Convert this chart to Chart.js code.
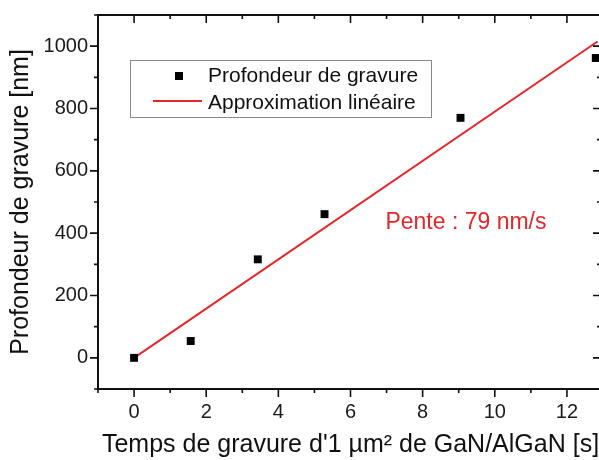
<!DOCTYPE html>
<html>
<head>
<meta charset="utf-8">
<script src="https://cdn.jsdelivr.net/npm/chart.js@4/dist/chart.umd.min.js"></script>
<style>
  html, body { margin: 0; padding: 0; background: #fff; overflow: hidden; }
  #wrap { width: 615px; height: 460px; }
</style>
</head>
<body>
<div id="wrap"><canvas id="c" width="615" height="460"></canvas></div>
<script>
// measured points (s, nm)
const etchTime = [0, 1.57, 3.43, 5.28, 9.05, 12.8];
const etchDepth = [0, 54, 316, 461, 770, 962];
// linear fit end points
const fitTime = [0, 12.85];
const fitDepth = [0, 1015];
const slopeText = "Pente : 79 nm/s";
const xTicks = [0, 2, 4, 6, 8, 10, 12];
const yTicks = [0, 200, 400, 600, 800, 1000];

const FONT = "'Liberation Sans', Arial, sans-serif";
const RED = "#e5262b";

const frame = {
  id: "frame",
  afterDatasetsDraw(chart) {
    const { ctx, chartArea: a, scales: { x, y } } = chart;
    ctx.save();
    ctx.strokeStyle = "#111";
    ctx.lineWidth = 1.6;
    ctx.beginPath();
    for (let v = x.min; v <= x.max; v++) {
      const px = x.getPixelForValue(v);
      const len = v % 2 === 0 ? 8 : 4;
      ctx.moveTo(px, a.bottom); ctx.lineTo(px, a.bottom + len);
      ctx.moveTo(px, a.top); ctx.lineTo(px, a.top + len);
    }
    for (let v = y.min; v <= y.max; v += 100) {
      const py = y.getPixelForValue(v);
      const len = v % 200 === 0 ? 8 : 4;
      ctx.moveTo(a.left, py); ctx.lineTo(a.left - len, py);
      ctx.moveTo(a.right, py); ctx.lineTo(a.right - len - 2, py);
    }
    ctx.stroke();
    ctx.lineWidth = 2;
    ctx.strokeRect(a.left, a.top, a.right - a.left, a.bottom - a.top);

    // legend box
    ctx.lineWidth = 1;
    ctx.strokeStyle = "#8a8a8a";
    ctx.strokeRect(130.5, 60.5, 301, 57);
    ctx.fillStyle = "#000";
    ctx.fillRect(175, 72, 8, 8);
    ctx.strokeStyle = RED;
    ctx.lineWidth = 2;
    ctx.beginPath(); ctx.moveTo(153, 101); ctx.lineTo(202, 101); ctx.stroke();
    ctx.font = "21px " + FONT;
    ctx.textBaseline = "middle";
    ctx.fillStyle = "#111";
    ctx.fillText(chart.data.datasets[0].label, 208, 76);
    ctx.fillText(chart.data.datasets[1].label, 208, 103);

    // slope annotation
    ctx.font = "23px " + FONT;
    ctx.fillStyle = RED;
    ctx.textAlign = "center";
    ctx.fillText(slopeText, x.getPixelForValue(9.2), y.getPixelForValue(433));
    ctx.restore();
  }
};

new Chart(document.getElementById("c"), {
  type: "scatter",
  data: {
    datasets: [
      {
        label: "Profondeur de gravure",
        data: etchTime.map((t, i) => ({ x: t, y: etchDepth[i] })),
        pointStyle: "rect",
        pointRadius: 5.6,
        backgroundColor: "#000",
        borderColor: "#000",
        borderWidth: 0,
        order: 0
      },
      {
        label: "Approximation linéaire",
        data: fitTime.map((t, i) => ({ x: t, y: fitDepth[i] })),
        showLine: true,
        pointRadius: 0,
        borderColor: RED,
        borderWidth: 2,
        order: 1
      }
    ]
  },
  options: {
    responsive: false,
    devicePixelRatio: 1,
    animation: false,
    layout: { padding: { top: 15, right: 12, left: 0, bottom: 0 } },
    plugins: { legend: { display: false }, tooltip: { enabled: false } },
    scales: {
      x: {
        type: "linear",
        min: -1,
        max: 13,
        afterBuildTicks: s => { s.ticks = xTicks.map(v => ({ value: v })); },
        afterFit: s => { s.height = 71; s.paddingLeft = 0; s.paddingRight = 0; },
        grid: { display: false, drawTicks: false },
        border: { display: false },
        ticks: { padding: 11, color: "#1a1a1a", callback: v => String(v), font: { family: FONT, size: 20 } },
        title: {
          display: true,
          text: "Temps de gravure d'1 µm² de GaN/AlGaN [s]",
          color: "#111",
          font: { family: FONT, size: 25 },
          padding: { top: 0, bottom: 0 }
        }
      },
      y: {
        type: "linear",
        min: -100,
        max: 1100,
        afterBuildTicks: s => { s.ticks = yTicks.map(v => ({ value: v })); },
        afterFit: s => { s.width = 98; s.paddingTop = 0; s.paddingBottom = 0; },
        grid: { display: false, drawTicks: false },
        border: { display: false },
        ticks: { padding: 10, color: "#1a1a1a", callback: v => String(v), font: { family: FONT, size: 20 } },
        title: {
          display: true,
          text: "Profondeur de gravure [nm]",
          color: "#111",
          font: { family: FONT, size: 25 },
          padding: { top: 6, bottom: 0 }
        }
      }
    }
  },
  plugins: [frame]
});
</script>
</body>
</html>
